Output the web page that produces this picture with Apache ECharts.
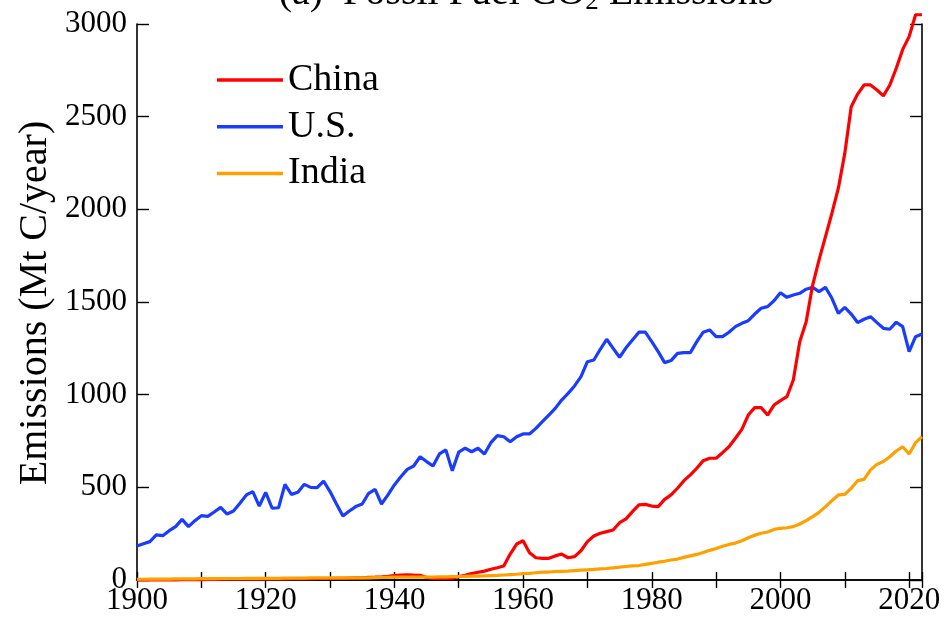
<!DOCTYPE html>
<html>
<head>
<meta charset="utf-8">
<script src="https://cdn.jsdelivr.net/npm/echarts@6/dist/echarts.min.js"></script>
<style>html,body{margin:0;padding:0;background:#fff}#c{width:946px;height:618px}</style>
</head>
<body>
<div id="c"></div>
<script>
// Years 1900..2022
var years = [];
for (var y = 1900; y <= 2022; y++) years.push(y);

// Emissions (Mt C / year)
var chinaValues = [
  1,1,1,1,1,1,1,2,2,2,            // 1900-1909
  2,3,3,3,4,4,4,5,5,5,            // 1910-1919
  6,6,6,6,7,7,7,7,8,8,            // 1920-1929
  8,9,9,10,11,12,14,15,17,20,     // 1930-1939
  24,27,28,26,25,14,8,8,8,10,     // 1940-1949
  18,25,35,42,48,58,66,76,140,194,          // 1950-1959
  212,147,120,117,117,130,140,120,126,158,  // 1960-1969
  207,237,252,261,270,309,330,369,405,408,  // 1970-1979
  399,396,435,459,495,536,567,603,644,657,  // 1980-1989
  657,687,719,765,813,890,930,930,890,944,  // 1990-1999
  968,989,1079,1286,1394,1590,1727,1853,1979,2114, // 2000-2009
  2302,2554,2622,2671,2671,2644,2612,2671,2761,2863, // 2010-2019
  2932,3050,3050                  // 2020-2022
];
var usValues = [
  183,195,207,243,239,266,288,327,288,320,   // 1900-1909
  347,343,367,392,356,372,414,459,477,399,   // 1910-1919
  473,387,390,516,462,473,516,500,498,534,   // 1920-1929
  477,410,345,372,396,410,468,489,410,459,   // 1930-1939
  513,557,597,615,665,639,615,680,702,590,   // 1940-1949
  690,711,692,711,680,741,779,773,746,773,   // 1950-1959
  788,788,818,854,890,926,971,1007,1047,1097,      // 1960-1969
  1178,1187,1245,1299,1250,1202,1253,1295,1337,1337, // 1970-1979
  1286,1232,1173,1184,1223,1227,1227,1286,1337,1349, // 1980-1989
  1313,1313,1337,1367,1385,1399,1435,1466,1475,1507, // 1990-1999
  1550,1525,1538,1547,1569,1579,1556,1579,1520,1439, // 2000-2009
  1471,1435,1389,1407,1421,1389,1358,1353,1391,1367, // 2010-2019
  1232,1313,1327                                     // 2020-2022
];
var indiaValues = [
  4,4,5,5,5,5,6,6,6,6,            // 1900-1909
  7,7,7,8,8,8,8,9,9,9,            // 1910-1919
  9,9,9,10,10,10,10,11,11,11,     // 1920-1929
  11,11,11,11,12,12,12,13,14,14,  // 1930-1939
  15,15,15,15,16,16,16,17,17,18,  // 1940-1949
  19,20,21,21,22,24,25,27,29,31,  // 1950-1959
  34,36,39,42,43,46,47,48,51,53,  // 1960-1969
  55,57,60,62,65,69,73,76,78,84,  // 1970-1979
  90,96,101,108,113,122,130,138,148,160,     // 1980-1989
  170,182,192,199,212,228,242,252,259,273,   // 1990-1999
  279,282,288,302,320,342,365,396,428,459,   // 2000-2009
  462,495,536,543,594,624,639,665,696,719,   // 2010-2019
  680,741,773                                // 2020-2022
];
var seriesNames = ['China', 'U.S.', 'India'];
var yTicks = [0, 500, 1000, 1500, 2000, 2500, 3000];
var xLabelYears = [1900, 1920, 1940, 1960, 1980, 2000, 2020];

function pairs(vals) { return years.map(function (yr, i) { return [yr, vals[i]]; }); }

var FONT = '"Liberation Serif", "Times New Roman", serif';
var chart = echarts.init(document.getElementById('c'), null, {renderer: 'canvas'});
var axisLine = {show: true, lineStyle: {color: '#000', width: 1.6}};

chart.setOption({
  backgroundColor: '#fff',
  animation: false,
  grid: {left: 137, right: 24, top: 24, bottom: 38, containLabel: false},
  legend: {
    data: seriesNames,
    orient: 'vertical',
    left: 217, top: 61, padding: 0,
    icon: 'rect',
    itemWidth: 66, itemHeight: 3.5, itemGap: 8.7,
    textStyle: {fontFamily: FONT, fontSize: 38, color: '#000', lineHeight: 38}
  },
  xAxis: [{
    type: 'value', min: 1900, max: 2022, interval: 10,
    axisLine: axisLine,
    axisTick: {show: true, inside: true, length: 8, lineStyle: {color: '#000', width: 1.4}},
    splitLine: {show: false},
    axisLabel: {
      fontFamily: FONT, fontSize: 31, color: '#000', margin: 5,
      formatter: function (v) { return xLabelYears.indexOf(v) >= 0 ? String(v) : ''; }
    }
  }, {
    type: 'value', position: 'top', min: 1900, max: 2022, interval: 10,
    axisLine: axisLine,
    axisTick: {show: true, inside: true, length: 8, lineStyle: {color: '#000', width: 1.4}},
    splitLine: {show: false}, axisLabel: {show: false}
  }],
  yAxis: [{
    type: 'value', min: 0, max: 3000, interval: 500,
    axisLine: axisLine,
    axisTick: {show: true, inside: true, length: 12, lineStyle: {color: '#000', width: 1.4}},
    splitLine: {show: false},
    axisLabel: {
      fontFamily: FONT, fontSize: 31, color: '#000', margin: 10,
      formatter: function (v) { return yTicks.indexOf(v) >= 0 ? String(v) : ''; }
    }
  }, {
    type: 'value', position: 'right', min: 0, max: 3000, interval: 500,
    axisLine: axisLine,
    axisTick: {show: true, inside: true, length: 12, lineStyle: {color: '#000', width: 1.4}},
    splitLine: {show: false}, axisLabel: {show: false}
  }],
  series: [
    {name: seriesNames[0], type: 'line', data: pairs(chinaValues), showSymbol: false, symbol: 'none',
     clip: false, color: '#ff0000', lineStyle: {color: '#ff0000', width: 3.2}, z: 3},
    {name: seriesNames[1], type: 'line', data: pairs(usValues), showSymbol: false, symbol: 'none',
     color: '#1a3cff', lineStyle: {color: '#1a3cff', width: 3.2}, z: 2},
    {name: seriesNames[2], type: 'line', data: pairs(indiaValues), showSymbol: false, symbol: 'none',
     color: '#ffa000', lineStyle: {color: '#ffa000', width: 3.2}, z: 4}
  ],
  graphic: [
    {
      type: 'text', x: 526, y: -7,
      style: {
        text: '{a|(a)  Fossil Fuel CO}{s|2}{a| Emissions}',
        align: 'center', verticalAlign: 'middle',
        rich: {
          a: {fontFamily: FONT, fontSize: 40, lineHeight: 44, fill: '#000', verticalAlign: 'middle'},
          s: {fontFamily: FONT, fontSize: 27, lineHeight: 27, fill: '#000', verticalAlign: 'bottom'}
        }
      }
    },
    {
      type: 'text', x: 35, y: 303, rotation: Math.PI / 2,
      style: {
        text: 'Emissions (Mt C/year)', fontFamily: FONT, fontSize: 40, fill: '#000',
        align: 'center', verticalAlign: 'middle'
      }
    }
  ]
});
</script>
</body>
</html>
